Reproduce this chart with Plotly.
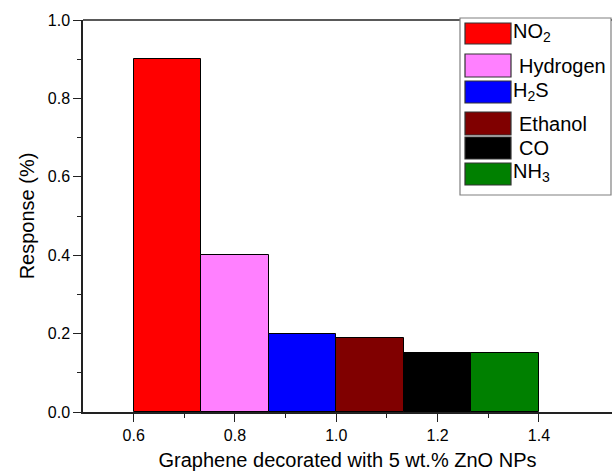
import plotly.graph_objects as go

# ---- data ----
gases = ["NO<sub>2</sub>", "Hydrogen", "H<sub>2</sub>S", "Ethanol", "CO", "NH<sub>3</sub>"]
x_centers = [0.6667, 0.8, 0.9333, 1.0667, 1.2, 1.3333]
responses = [0.90, 0.40, 0.20, 0.19, 0.15, 0.15]
bar_width = 0.1333
colors = ["#FF0000", "#FF80FF", "#0000FF", "#800000", "#000000", "#008000"]
x_ticks = [0.6, 0.8, 1.0, 1.2, 1.4]
x_minor = [0.7, 0.9, 1.1, 1.3]
y_ticks = [0.0, 0.2, 0.4, 0.6, 0.8, 1.0]
y_minor = [0.1, 0.3, 0.5, 0.7, 0.9]

W, H = 612, 476
ML, MT, MB, MR = 83, 20, 64, 0
PW, PH = W - ML - MR, H - MT - MB

FONT = "Liberation Sans, Arial, sans-serif"

fig = go.Figure()
for g, xc, r, c in zip(gases, x_centers, responses, colors):
    fig.add_trace(go.Bar(x=[xc], y=[r], width=bar_width, name=g,
                         marker=dict(color=c, line=dict(color="#000000", width=1)),
                         showlegend=False))

def px(x):
    return (x - ML) / PW

def py(y):
    return (H - MB - y) / PH

shapes = []
annotations = []
# top frame line
shapes.append(dict(type="line", xref="paper", yref="paper", x0=0, x1=1, y0=1, y1=1,
                   line=dict(color="#222", width=1.5), layer="above"))
# legend box
shapes.append(dict(type="rect", xref="paper", yref="paper",
                   x0=px(460), x1=px(611), y0=py(195), y1=py(18),
                   fillcolor="white", line=dict(color="#808080", width=1.2), layer="above"))
rows = [(23, 44), (54, 77), (81, 103), (112, 135), (137, 159), (163, 185)]
text_x = [511, 517, 511, 517, 517, 511]
for (t, b), c, g, tx in zip(rows, colors, gases, text_x):
    shapes.append(dict(type="rect", xref="paper", yref="paper",
                       x0=px(465), x1=px(511), y0=py(b), y1=py(t),
                       fillcolor=c, line=dict(color="#333333", width=1.2), layer="above"))
    yc = (t + b) / 2 + (-1 if "sub" in g else 0.5)
    annotations.append(dict(xref="paper", yref="paper", x=px(tx), y=py(yc),
                            text=g, showarrow=False, xanchor="left", yanchor="middle",
                            font=dict(family=FONT, size=20, color="#000000")))

fig.update_layout(
    width=W, height=H,
    margin=dict(l=ML, r=MR, t=MT, b=MB, autoexpand=False),
    paper_bgcolor="white", plot_bgcolor="white",
    font=dict(family=FONT, color="#000000"),
    shapes=shapes, annotations=annotations,
    bargap=0,
)
fig.update_xaxes(
    range=[0.5, 0.5 + PW / 506.6], tickmode="array", tickvals=x_ticks,
    ticktext=[f"{v:.1f}" for v in x_ticks],
    ticks="outside", ticklen=8, tickwidth=1.3, tickcolor="#222",
    showline=True, linecolor="#222", linewidth=1.5, mirror=False,
    showgrid=False, zeroline=False,
    tickfont=dict(size=16, family=FONT),
    minor=dict(tickmode="array", tickvals=x_minor, ticks="outside", ticklen=4, tickcolor="#222", tickwidth=1.3),
    title=dict(text="Graphene decorated with 5 wt.% ZnO NPs", font=dict(size=20, family=FONT), standoff=10),
)
fig.update_yaxes(
    range=[0, 1.0], tickmode="array", tickvals=y_ticks,
    ticktext=[f"{v:.1f}" for v in y_ticks],
    ticks="outside", ticklen=8, tickwidth=1.3, tickcolor="#222",
    showline=True, linecolor="#222", linewidth=1.5,
    showgrid=False, zeroline=False,
    tickfont=dict(size=16, family=FONT),
    minor=dict(tickmode="array", tickvals=y_minor, ticks="outside", ticklen=4, tickcolor="#222", tickwidth=1.3),
    title=dict(text="Response (%)", font=dict(size=20, family=FONT), standoff=8),
)

fig.write_html("out.html")
